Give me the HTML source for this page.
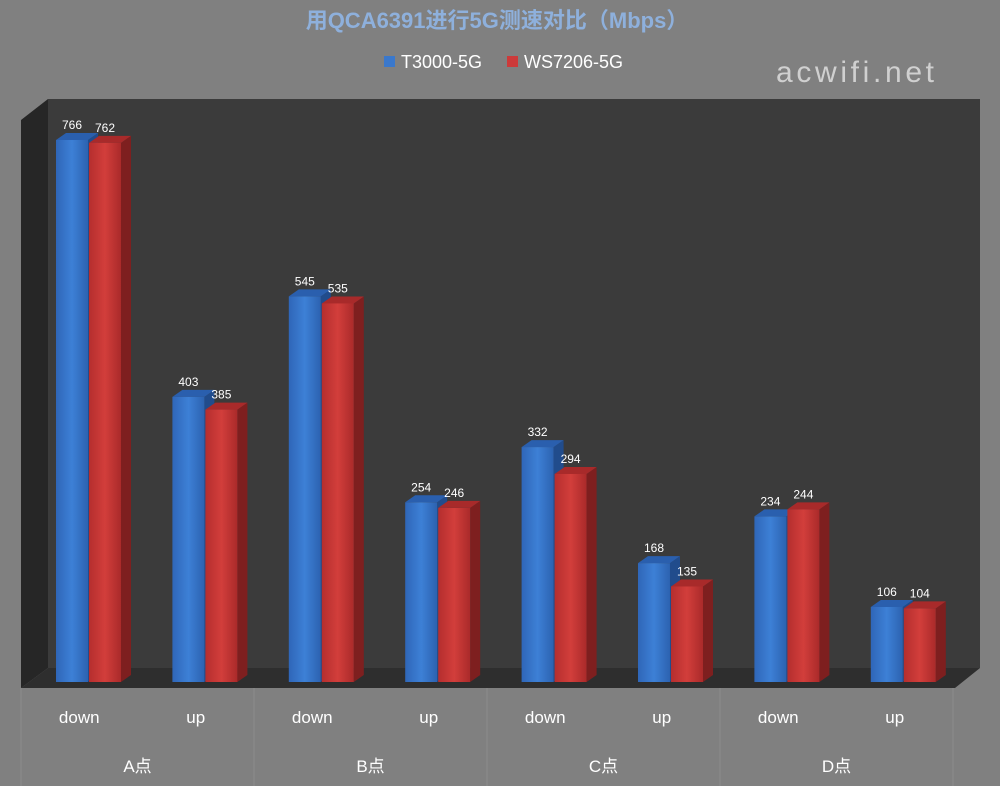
<!DOCTYPE html>
<html><head><meta charset="utf-8"><style>
html,body{margin:0;padding:0;background:#808080;}
svg{display:block;font-family:"Liberation Sans","Noto Sans CJK SC",sans-serif;}
</style></head><body>
<svg id="c" width="1000" height="786" viewBox="0 0 1000 786">
<defs>
<linearGradient id="gb" x1="0" x2="1"><stop offset="0" stop-color="#2f66b8"/><stop offset="0.5" stop-color="#3d80d6"/><stop offset="1" stop-color="#2c62b0"/></linearGradient>
<linearGradient id="gr" x1="0" x2="1"><stop offset="0" stop-color="#b52e2e"/><stop offset="0.5" stop-color="#d23e3b"/><stop offset="1" stop-color="#aa2a2a"/></linearGradient>
</defs>
<rect width="1000" height="786" fill="#808080"/>
<text x="497" y="28" text-anchor="middle" font-size="22" font-weight="bold" fill="#8eb0dc">用QCA6391进行5G测速对比（Mbps）</text>
<g>
<g><rect x="384" y="56" width="11" height="11" fill="#3a78cc"/><text x="401" y="68" font-size="18" fill="#fff">T3000-5G</text></g>
<g><rect x="507" y="56" width="11" height="11" fill="#cc3a3a"/><text x="524" y="68" font-size="18" fill="#fff">WS7206-5G</text></g>
</g>
<text x="855" y="82" text-anchor="middle" font-size="30" fill="#d0d0d0" textLength="158">acwifi.net</text>
<polygon points="48,99 980,99 980,668 48,668" fill="#3b3b3b"/>
<polygon points="21,120 48,99 48,668 21,688" fill="#262626"/>
<polygon points="48,668 980,668 955,688 21,688" fill="#2e2e2e"/>
<g id="bars"></g>
<g id="axis"></g>
</svg>
<script>
const groups = ["A点","B点","C点","D点"];
const subs = ["down","up"];
const t3000 = [766,403,545,254,332,168,234,106];
const ws7206 = [762,385,535,246,294,135,244,104];
const NS="http://www.w3.org/2000/svg";
const base=682, scale=(682-140)/766;
const y=v=>base-v*scale;
const x0=56, step=116.4, bw=32, dx=10, dy=7;
function mk(t,a,p){const e=document.createElementNS(NS,t);for(const k in a)e.setAttribute(k,a[k]);(p||document.getElementById('bars')).appendChild(e);return e;}
function bar(x,v,front,top,side,name){
  const yt=y(v);
  const g=mk('g',{});
  
  
  mk('polygon',{points:`${x+bw},${yt} ${x+bw+dx},${yt-dy} ${x+bw+dx},${base-dy} ${x+bw},${base}`,fill:side},g);
  mk('polygon',{points:`${x},${yt} ${x+dx},${yt-dy} ${x+bw+dx},${yt-dy} ${x+bw},${yt}`,fill:top},g);
  mk('rect',{x:x,y:yt,width:bw,height:base-yt,fill:front},g);
  const t=mk('text',{x:x+bw/2,y:yt-11,'text-anchor':'middle','font-size':12,fill:'#fff'},g);
  t.textContent=v;
}
for(let i=0;i<t3000.length;i++){
  const xb=x0+i*step;
  bar(xb,t3000[i],'url(#gb)','#2a5fae','#214c8c','bar-t3000-'+i);
  bar(xb+bw+1,ws7206[i],'url(#gr)','#a82a2a','#7e1f1f','bar-ws7206-'+i);
}
const ax=document.getElementById('axis');
const gw=233;
for(let g=0;g<=groups.length;g++){
  const l=mk('line',{x1:21+g*gw,y1:688,x2:21+g*gw,y2:786,stroke:'#8c8c8c','stroke-width':1},ax);
  
  
}
for(let g=0;g<groups.length;g++){
  const t=mk('text',{x:21+g*gw+gw/2,y:772,'text-anchor':'middle','font-size':17,fill:'#fff'},ax);
  
  
  t.textContent=groups[g];
  for(let s=0;s<2;s++){
    const u=mk('text',{x:21+g*gw+gw/4+s*gw/2,y:723,'text-anchor':'middle','font-size':17,fill:'#fff'},ax);
    
    
    u.textContent=subs[s];
  }
}
</script>
</body></html>
